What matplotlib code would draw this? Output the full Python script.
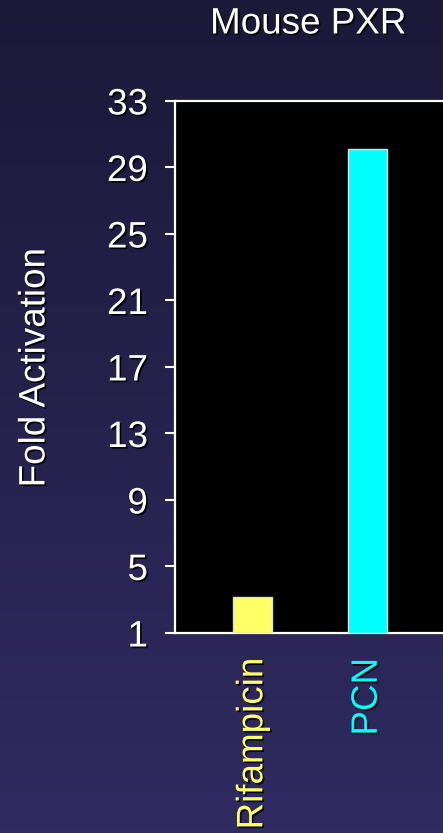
import numpy as np
import matplotlib
matplotlib.use("Agg")
import matplotlib.pyplot as plt
import matplotlib.patheffects as pe

# data
categories = ["Rifampicin", "PCN"]
fold_activation = [3.15, 30.1]
bar_colors = ["#ffff66", "#00ffff"]
y_ticks = [1, 5, 9, 13, 17, 21, 25, 29, 33]

plt.rcParams['font.family'] = ['Liberation Sans', 'DejaVu Sans']

fig = plt.figure(figsize=(4.43, 8.33), dpi=100)

# gradient background
bg = fig.add_axes([0, 0, 1, 1], zorder=0)
top = np.array([28, 24, 56]) / 255
bot = np.array([48, 43, 97]) / 255
t = np.linspace(0, 1, 256)[:, None]
grad = top[None, :] * (1 - t) + bot[None, :] * t
bg.imshow(grad[:, None, :], aspect='auto', extent=[0, 1, 0, 1])
bg.axis('off')

shadow = [pe.withSimplePatchShadow(offset=(1.2, -1.2), shadow_rgbFace='black', alpha=0.9)]
fs = 26.5

ax = fig.add_axes([0.395, 0.2401, 0.70, 0.6387], zorder=1)
ax.set_facecolor('black')

x = np.arange(len(categories))
base = 1
ax.bar(x, np.array(fold_activation) - base, bottom=base, width=0.34,
       color=bar_colors, edgecolor='#dddddd', linewidth=1.0, zorder=3)

ax.set_ylim(1, 33)
ax.set_xlim(-0.68, -0.68 + 0.70 * 443 / 114.5)
ax.set_yticks(y_ticks)
ax.set_yticklabels([str(v) for v in y_ticks], fontsize=fs, color='white')
for lbl in ax.get_yticklabels():
    lbl.set_path_effects(shadow)
ax.tick_params(axis='y', direction='out', length=7.5, width=1.5, color='white', pad=12)

ax.set_xticks(x)
ax.set_xticklabels(categories, rotation=90, fontsize=fs, va='top')
for lbl, c in zip(ax.get_xticklabels(), bar_colors):
    lbl.set_color(c)
    lbl.set_path_effects(shadow)
ax.tick_params(axis='x', length=0, pad=18)

for s in ['left', 'bottom', 'top']:
    ax.spines[s].set_color('white')
    ax.spines[s].set_linewidth(1.6)
ax.spines['right'].set_visible(False)

fig.text(35 / 443, 1 - 368 / 833, "Fold Activation", rotation=90, ha='center', va='center',
         fontsize=fs, color='white', path_effects=shadow)
fig.text(308 / 443, 1 - 24 / 833, "Mouse PXR", ha='center', va='center',
         fontsize=fs, color='white', path_effects=shadow)

fig.savefig("out.png", dpi=100)
